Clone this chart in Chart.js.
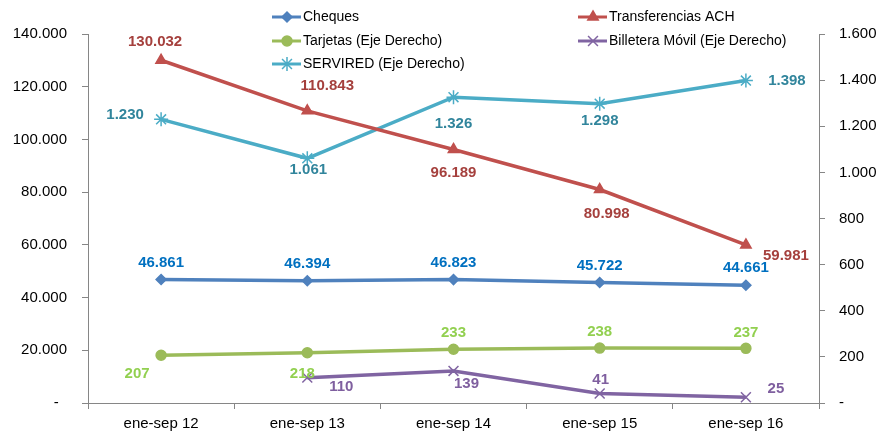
<!DOCTYPE html>
<html>
<head>
<meta charset="utf-8">
<script src="https://cdn.jsdelivr.net/npm/chart.js@4/dist/chart.umd.min.js"></script>
<style>
  html, body { margin: 0; padding: 0; background: #fff; }
  #wrap { width: 879px; height: 437px; }
</style>
</head>
<body>
<div id="wrap"><canvas id="chart" width="879" height="437"></canvas></div>
<script>
var Periodos = ["ene-sep 12", "ene-sep 13", "ene-sep 14", "ene-sep 15", "ene-sep 16"];
var Cheques = [46861, 46394, 46823, 45722, 44661];
var TransferenciasACH = [130032, 110843, 96189, 80998, 59981];
var Tarjetas = [207, 218, 233, 238, 237];
var Billetera = [null, 110, 139, 41, 25];
var Servired = [1230, 1061, 1326, 1298, 1398];

var FONT = "'Liberation Sans', Arial, sans-serif";
var AXIS_GRAY = "#868686";

function Miles(v){
	if (v === 0) return "-";
	return String(v).replace(/\B(?=(\d{3})+(?!\d))/g, ".");
}

// etiquetas de datos con desplazamiento por punto
var etiquetas = {
	id: "etiquetas",
	afterDatasetsDraw: function(chart){
		var ctx = chart.ctx;
		ctx.save();
		ctx.font = "bold 15px " + FONT;
		ctx.textAlign = "center";
		ctx.textBaseline = "middle";
		chart.data.datasets.forEach(function(ds, i){
			var meta = chart.getDatasetMeta(i);
			ctx.fillStyle = ds.labelColor;
			meta.data.forEach(function(pt, j){
				var v = ds.data[j];
				if (v === null || v === undefined) return;
				var off = ds.labelOffset[j];
				ctx.fillText(Miles(v), pt.x + off[0], pt.y + off[1]);
			});
		});
		ctx.restore();
	}
};

// leyenda en dos columnas
var leyenda = {
	id: "leyenda",
	afterDraw: function(chart){
		var ctx = chart.ctx;
		var pos = [[272, 17], [578, 17], [272, 41], [578, 41], [272, 64]];
		ctx.save();
		ctx.font = "14px " + FONT;
		ctx.textBaseline = "middle";
		ctx.textAlign = "left";
		chart.data.datasets.forEach(function(ds, i){
			var p = pos[i];
			ctx.strokeStyle = ds.borderColor;
			ctx.lineWidth = 3;
			ctx.beginPath();
			ctx.moveTo(p[0], p[1]);
			ctx.lineTo(p[0] + 29, p[1]);
			ctx.stroke();
			ctx.fillStyle = ds.borderColor;
			ctx.lineWidth = 1.5;
			Chart.helpers.drawPoint(ctx, {
				pointStyle: ds.pointStyle,
				radius: ds.pointRadius,
				borderWidth: 1.5,
				rotation: 0
			}, p[0] + 15, p[1]);
			ctx.fillStyle = "#000";
			ctx.fillText(ds.label, p[0] + 31, p[1]);
		});
		ctx.restore();
	}
};

function Serie(label, data, color, labelColor, style, radius, eje, offsets){
	return {
		label: label,
		data: data,
		yAxisID: eje,
		borderColor: color,
		backgroundColor: color,
		pointBackgroundColor: color,
		pointBorderColor: color,
		pointStyle: style,
		pointRadius: radius,
		pointBorderWidth: 1.5,
		borderWidth: 3.5,
		tension: 0,
		spanGaps: false,
		labelColor: labelColor,
		labelOffset: offsets
	};
}

new Chart(document.getElementById("chart"), {
	type: "line",
	data: {
		labels: Periodos,
		datasets: [
			Serie("Cheques", Cheques, "#4F81BD", "#0070C0", "rectRot", 5, "y",
				[[0,-17],[0,-17],[0,-17],[0,-17],[0,-17]]),
			Serie("Transferencias ACH", TransferenciasACH, "#C0504D", "#A5403D", "triangle", 6, "y",
				[[-6,-18],[20,-25],[0,23],[7,24],[40,11]]),
			Serie("Tarjetas (Eje Derecho)", Tarjetas, "#9BBB59", "#92D050", "circle", 5, "y1",
				[[-24,19],[-5,21],[0,-16],[0,-16],[0,-15]]),
			Serie("Billetera Móvil (Eje Derecho)", Billetera, "#8064A2", "#7F5F9F", "crossRot", 7, "y1",
				[[0,0],[34,9],[13,13],[1,-14],[30,-8]]),
			Serie("SERVIRED (Eje Derecho)", Servired, "#4BACC6", "#31859C", "star", 7, "y1",
				[[-36,-4],[1,12],[0,27],[0,17],[41,0]])
		]
	},
	options: {
		responsive: false,
		animation: false,
		layout: { padding: { top: 34, left: 0, right: 0, bottom: 0 } },
		plugins: {
			legend: { display: false },
			tooltip: { enabled: false },
			title: { display: false }
		},
		scales: {
			x: {
				offset: true,
				afterFit: function(s){ s.height = 34; },
				grid: {
					offset: true,
					drawOnChartArea: false,
					drawTicks: true,
					tickLength: 6,
					color: AXIS_GRAY
				},
				border: { color: AXIS_GRAY, width: 1 },
				ticks: { color: "#000", font: { family: FONT, size: 15 }, padding: 6, maxRotation: 0 }
			},
			y: {
				position: "left",
				min: 0,
				max: 140000,
				afterFit: function(s){ s.width = 88; },
				grid: { drawOnChartArea: false, drawTicks: true, tickLength: 6, color: AXIS_GRAY },
				border: { color: AXIS_GRAY, width: 1 },
				ticks: {
					stepSize: 20000,
					color: "#000",
					padding: 15,
					font: { family: FONT, size: 15 },
					callback: function(v){ return v === 0 ? "-  " : Miles(v); }
				}
			},
			y1: {
				position: "right",
				min: 0,
				max: 1600,
				afterFit: function(s){ s.width = 60; },
				grid: { drawOnChartArea: false, drawTicks: true, tickLength: 6, color: AXIS_GRAY },
				border: { color: AXIS_GRAY, width: 1 },
				ticks: {
					stepSize: 200,
					color: "#000",
					padding: 14,
					font: { family: FONT, size: 15 },
					callback: function(v){ return Miles(v); }
				}
			}
		}
	},
	plugins: [etiquetas, leyenda]
});
</script>
</body>
</html>
